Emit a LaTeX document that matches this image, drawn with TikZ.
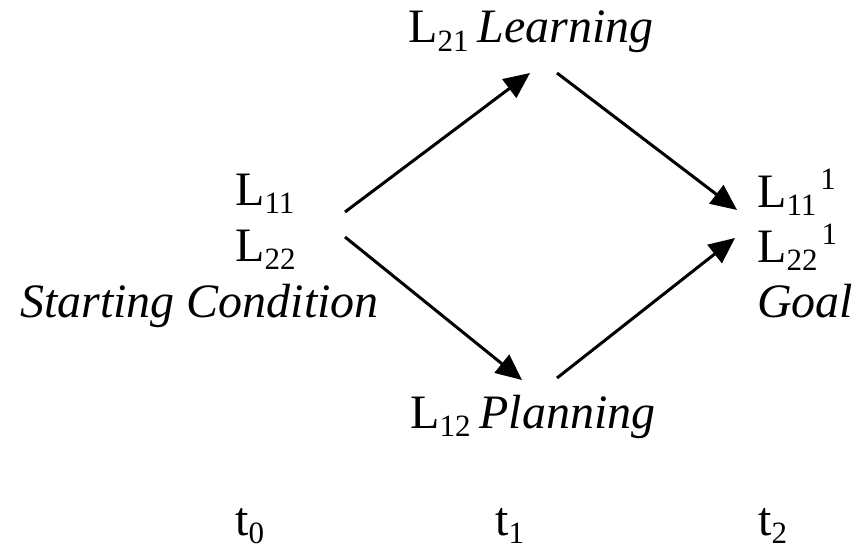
\documentclass[tikz,border=0pt]{standalone}
\usepackage{fontspec}
\setmainfont{Liberation Serif}
\usetikzlibrary{arrows.meta}
\newcommand\mysub[1]{\raisebox{-0.18em}[0pt][0pt]{\fontsize{31}{31}\selectfont #1}}
\newcommand\mysup[1]{\kern4pt\raisebox{0.36em}{\fontsize{31}{31}\selectfont #1}}
\begin{document}
\begin{tikzpicture}[x=1pt,y=-1pt,
  lbl/.style={anchor=base west,inner sep=0pt,font=\fontsize{48}{56}\selectfont},
  arr/.style={line width=3pt,-{Triangle[length=26pt,width=23pt]}}]
\useasboundingbox (0,0) rectangle (868,551);
\node[lbl] (learn) at (408,43) {L\mysub{21}\kern9pt\textit{Learning}};
\node[lbl] (l11) at (235,205) {L\mysub{11}};
\node[lbl] (l22) at (235,261) {L\mysub{22}};
\node[lbl] (start) at (20,317) {\textit{Starting Condition}};
\node[lbl] (g11) at (757,207) {L\mysub{11}\mysup{1}};
\node[lbl] (g22) at (757,262) {L\mysub{22}\mysup{1}};
\node[lbl] (goal) at (757,317) {\textit{Goal}};
\node[lbl] (plan) at (410,428) {L\mysub{12}\kern9pt\textit{Planning}};
\node[lbl] (t0) at (235,535) {t\mysub{0}};
\node[lbl] (t1) at (495,535) {t\mysub{1}};
\node[lbl] (t2) at (758,535) {t\mysub{2}};
\coordinate (a1s) at (345,212);
\coordinate (a1e) at (530,73);
\coordinate (a2s) at (557,73);
\coordinate (a2e) at (737,210);
\coordinate (a3s) at (345,237);
\coordinate (a3e) at (522,380);
\coordinate (a4s) at (557,378);
\coordinate (a4e) at (735,238);
\draw[arr] (a1s) -- (a1e);
\draw[arr] (a2s) -- (a2e);
\draw[arr] (a3s) -- (a3e);
\draw[arr] (a4s) -- (a4e);
\end{tikzpicture}
\end{document}
